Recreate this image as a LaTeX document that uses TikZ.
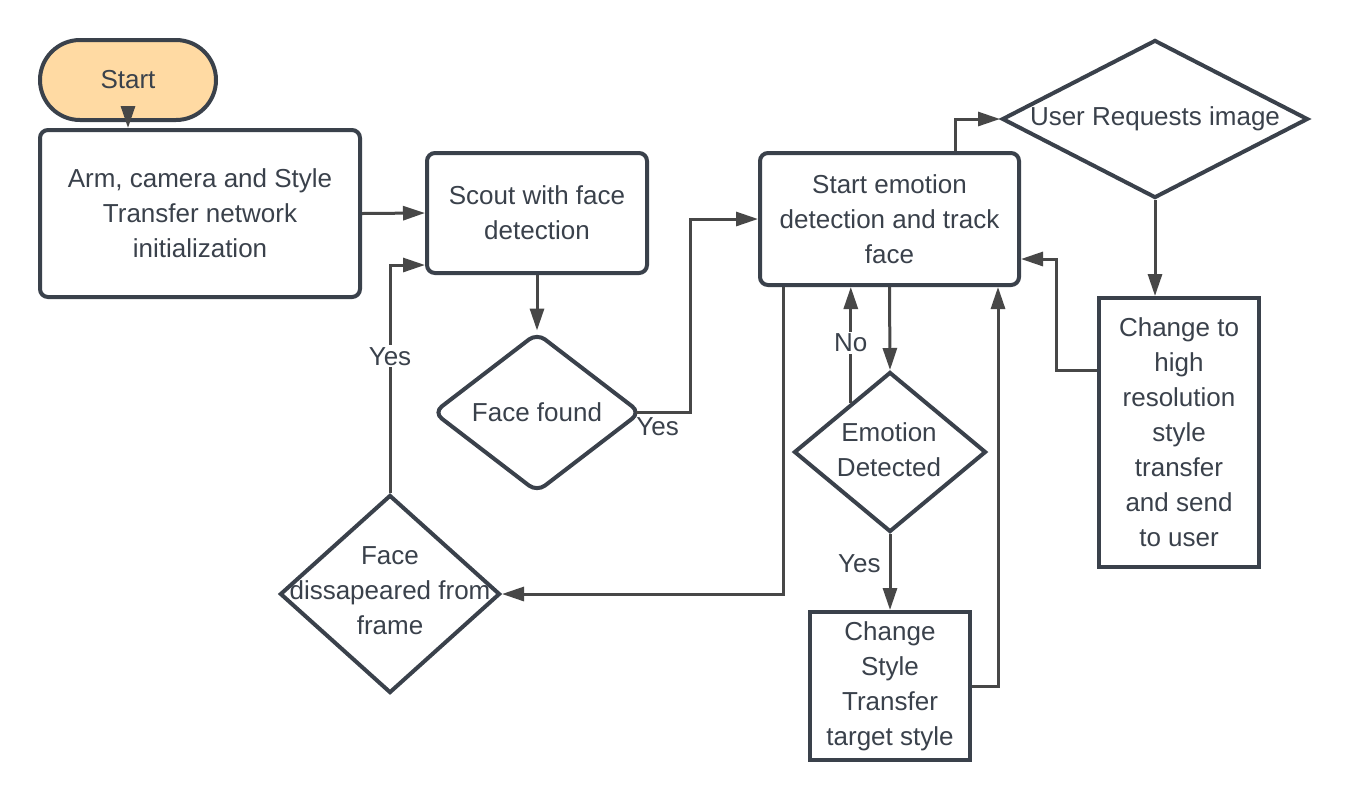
\documentclass[tikz,border=0pt]{standalone}
\usepackage{fontspec}
\setmainfont{Liberation Sans}
\usetikzlibrary{shapes.geometric,arrows.meta,calc}
\definecolor{ink}{HTML}{3A414B}
\definecolor{wire}{HTML}{474747}
\definecolor{startfill}{HTML}{FFDAA3}
\begin{document}
\begin{tikzpicture}[x=0.5pt,y=-0.5pt,
  every node/.style={font=\fontsize{13}{17.5}\selectfont, text=ink},
  box/.style={draw=ink, line width=2pt, fill=white, rounded corners=4pt, align=center, inner sep=0pt},
  sqbox/.style={box, rounded corners=0pt},
  dia/.style={draw=ink, line width=2pt, fill=white, diamond, inner sep=0pt},
  txt/.style={align=center, inner sep=0pt},
  arr/.style={draw=wire, line width=1.5pt, -{Triangle[length=11pt,width=7pt]}},
  lbl/.style={inner sep=1pt}
]
\fill[white] (0,0) rectangle (1349,800);
\useasboundingbox (0,0) rectangle (1349,800);

% nodes
\node[box, fill=startfill, rounded corners=20pt, minimum width=88pt, minimum height=40pt] (st) at (128,80) {Start};
\node[box, minimum width=160pt, minimum height=83.5pt] (in) at (200,213.5) {Arm, camera and Style\\Transfer network\\initialization};
\node[box, minimum width=110pt, minimum height=60pt] (sc) at (537,213) {Scout with face\\detection};
\node[dia, rounded corners=5pt, minimum width=104pt, minimum height=80pt] (ff) at (537,412.5) {};
\node[txt] (ffT) at (ff) {Face found};
\node[box, minimum width=129.5pt, minimum height=66pt] (emo) at (889.5,219) {Start emotion\\detection and track\\face};
\node[dia, minimum width=153pt, minimum height=79pt] (ur) at (1155,119) {};
\node[txt] (urT) at (ur) {User Requests image};
\node[sqbox, minimum width=80pt, minimum height=134.5pt] (hr) at (1179,432.5) {Change to\\high\\resolution\\style\\transfer\\and send\\to user};
\node[dia, minimum width=96pt, minimum height=80pt] (ed) at (890,452) {};
\node[txt] (edT) at (889,450) {Emotion\\Detected};
\node[sqbox, minimum width=80pt, minimum height=74pt] (cst) at (890,686) {Change\\Style\\Transfer\\target style};
\node[dia, minimum width=110pt, minimum height=99pt] (fd) at (390,594) {};
\node[txt] (fdT) at (390,591) {Face\\dissapeared from\\frame};

% connectors
\draw[arr] (st.south) -- (st.south |- in.north);
\draw[arr] (in.east) -- (sc.west);
\draw[arr] (sc.south) -- (ff.north);
\draw[arr] ($(ff.east)+(-7,0)$) coordinate (ffE) -- (690,412.5) |- (emo.west);
\node[lbl, anchor=north west] (y1) at ($(ffE)+(-2,3)$) {Yes};
\draw[arr] ($(emo.north)+(65.5,0)$) |- (ur.west);
\draw[arr] (ur.south) -- (ur.south |- hr.north);
\draw[arr] ($(hr.north west)+(0,74)$) -- ++(-41,0) |- ($(emo.east)+(0,40)$);
\draw[arr] (emo.south) -- (ed.north);
\draw[arr] ($(ed.north)!0.4!(ed.west)$) coordinate (noS) -- (noS |- emo.south) node[lbl, pos=0.52, fill=white] (nol) {No};
\draw[arr] (ed.south) -- (cst.north) node[lbl, pos=0.39, left=3pt] (y2) {Yes};
\draw[arr] (cst.east) -| ($(emo.south)+(108.5,0)$);
\draw[arr] ($(emo.south)+(-106.5,0)$) |- (fd.east);
\draw[arr] (fd.north) |- ($(sc.south west)+(0,-10)$) node[lbl, pos=0.3, fill=white] (y3) {Yes};
\end{tikzpicture}
\end{document}
